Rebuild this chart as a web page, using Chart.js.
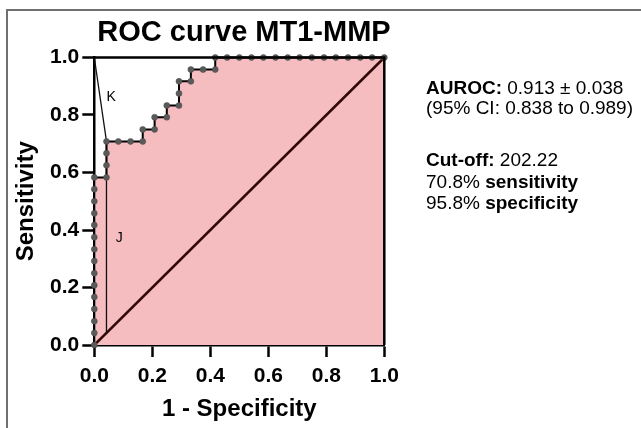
<!DOCTYPE html>
<html>
<head>
<meta charset="utf-8">
<script src="https://cdn.jsdelivr.net/npm/chart.js@4.4.1/dist/chart.umd.min.js"></script>
<style>
  html, body { margin: 0; padding: 0; background: #fff; }
  #wrap { position: relative; width: 641px; height: 428px; overflow: hidden; }
  #frame { position: absolute; left: 6px; top: 9px; right: -5px; bottom: -5px;
           border-left: 2px solid #707070; border-top: 2px solid #707070; }
  canvas { position: absolute; left: 0; top: 0; }
</style>
</head>
<body>
<div id="wrap">
  <div id="frame"></div>
  <canvas id="roc" width="641" height="428"></canvas>
</div>
<script>
// ROC points (1 - specificity, sensitivity)
const fpr = [0, 0, 0, 0, 0, 0, 0, 0, 0, 0, 0, 0, 0, 0, 0,
  0.042, 0.042, 0.042, 0.042, 0.083, 0.125, 0.167, 0.167,
  0.208, 0.208, 0.25, 0.25, 0.292, 0.292, 0.292, 0.333, 0.333,
  0.375, 0.417, 0.417, 0.458, 0.5, 0.542, 0.583, 0.625, 0.667,
  0.708, 0.75, 0.792, 0.833, 0.875, 0.917, 0.958, 1];
const tpr = [0, 0.042, 0.083, 0.125, 0.167, 0.208, 0.25, 0.292, 0.333, 0.375, 0.417, 0.458, 0.5, 0.542, 0.583,
  0.583, 0.625, 0.667, 0.708, 0.708, 0.708, 0.708, 0.75,
  0.75, 0.792, 0.792, 0.833, 0.833, 0.875, 0.917, 0.917, 0.958,
  0.958, 0.958, 1, 1, 1, 1, 1, 1, 1,
  1, 1, 1, 1, 1, 1, 1, 1];

// reference diagonal and the Youden J / closest-to-corner K lines
const diagX = [0, 1];
const diagY = [0, 1];
const jLineX = [0.042, 0.042];
const jLineY = [0.042, 0.708];
const kLineX = [0, 0.042];
const kLineY = [1, 0.708];
const markNames = ['K', 'J'];
const markX = [0.058, 0.086];
const markY = [0.866, 0.375];

const axisTicks = [0, 0.2, 0.4, 0.6, 0.8, 1.0];

const chartTitle = 'ROC curve MT1-MMP';
const xTitle = '1 - Specificity';
const yTitle = 'Sensitivity';

// [text, bold] pieces per line
const statsLines = [
  [['AUROC: ', true], ['0.913 \u00b1 0.038', false]],
  [['(95% CI: 0.838 to 0.989)', false]],
  [],
  [['Cut-off: ', true], ['202.22', false]],
  [['70.8% ', false], ['sensitivity', true]],
  [['95.8% ', false], ['specificity', true]]
];
const statsBaselines = [94, 114, 0, 166, 188, 209];

const toPoints = (xs, ys) => xs.map((x, i) => ({ x: x, y: ys[i] }));

const FONT = 'Arial, "Liberation Sans", sans-serif';

const extras = {
  id: 'extras',
  afterDraw(chart) {
    const ctx = chart.ctx;
    const a = chart.chartArea;
    const xs = chart.scales.x, ys = chart.scales.y;
    ctx.save();
    // top and right frame
    ctx.strokeStyle = '#000';
    ctx.lineWidth = 2.5;
    ctx.beginPath();
    ctx.moveTo(a.left, a.top);
    ctx.lineTo(a.right, a.top);
    ctx.lineTo(a.right, a.bottom);
    ctx.stroke();

    ctx.fillStyle = '#000';
    ctx.textBaseline = 'alphabetic';
    ctx.textAlign = 'center';
    ctx.font = 'bold 29px ' + FONT;
    ctx.fillText(chartTitle, 244, 41);

    ctx.font = '14px ' + FONT;
    markNames.forEach((m, i) => {
      ctx.fillText(m, xs.getPixelForValue(markX[i]), ys.getPixelForValue(markY[i]) + 5);
    });

    ctx.textAlign = 'left';
    statsLines.forEach((line, i) => {
      let x = 426;
      line.forEach(([t, b]) => {
        ctx.font = (b ? 'bold ' : '') + '19px ' + FONT;
        ctx.fillText(t, x, statsBaselines[i]);
        x += ctx.measureText(t).width;
      });
    });
    ctx.restore();
  }
};

const axisOpts = (title, fitter) => ({
  type: 'linear',
  min: 0,
  max: 1,
  afterBuildTicks: (s) => { s.ticks = axisTicks.map(v => ({ value: v })); },
  afterFit: fitter,
  grid: { drawOnChartArea: false, drawTicks: true, tickLength: 12, tickColor: '#000', tickWidth: 2.5 },
  border: { display: true, color: '#000', width: 2.5 },
  ticks: {
    color: '#000',
    font: { family: FONT, size: 21, weight: 'bold' },
    callback: (v) => Number(v).toFixed(1)
  },
  title: { display: true, text: title, color: '#000', font: { family: FONT, size: 24, weight: 'bold' } }
});

const xAxis = axisOpts(xTitle, (s) => { s.height = 83; });
xAxis.ticks.padding = 7;
xAxis.title.padding = { top: 0, bottom: 4 };
const yAxis = axisOpts(yTitle, (s) => { s.width = 94.3; });
yAxis.ticks.padding = 3;
yAxis.title.padding = { top: 12, bottom: 0 };

new Chart(document.getElementById('roc'), {
  type: 'scatter',
  data: {
    datasets: [
      {
        label: 'ROC',
        data: toPoints(fpr, tpr),
        showLine: true,
        borderColor: '#000',
        borderWidth: 2,
        pointRadius: 3,
        pointBackgroundColor: '#5a5a5a',
        pointBorderColor: '#4a4a4a',
        pointBorderWidth: 0.5,
        fill: 'origin',
        backgroundColor: '#f6bdc1',
        clip: 6
      },
      {
        label: 'J',
        data: toPoints(jLineX, jLineY),
        showLine: true,
        borderColor: '#111',
        borderWidth: 1.3,
        pointRadius: 0
      },
      {
        label: 'K',
        data: toPoints(kLineX, kLineY),
        showLine: true,
        borderColor: '#111',
        borderWidth: 1.3,
        pointRadius: 0,
        clip: 4
      },
      {
        label: 'Reference',
        data: toPoints(diagX, diagY),
        showLine: true,
        borderColor: '#300808',
        borderWidth: 2.6,
        pointRadius: 0
      }
    ]
  },
  options: {
    responsive: false,
    animation: false,
    layout: { padding: { left: 0, top: 57.5, right: 256.7, bottom: 0 } },
    plugins: {
      legend: { display: false },
      title: { display: false },
      tooltip: { enabled: false },
      filler: { drawTime: 'beforeDatasetsDraw' }
    },
    scales: { x: xAxis, y: yAxis }
  },
  plugins: [extras]
});
</script>
</body>
</html>
